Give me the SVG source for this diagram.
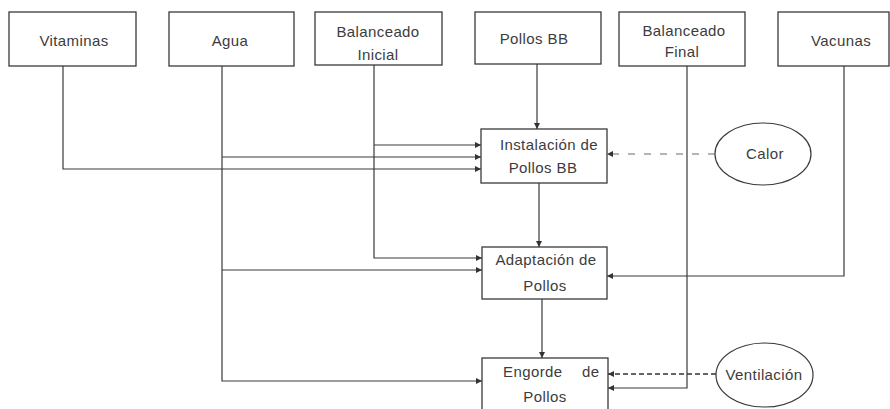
<svg xmlns="http://www.w3.org/2000/svg" width="890" height="409" viewBox="0 0 890 409">
<defs>
<style>
.box{fill:#ffffff;stroke:#3a3a3a;stroke-width:1.3}
.ell{fill:#ffffff;stroke:#3a3a3a;stroke-width:1.2}
.t{font-family:"Liberation Sans",Arial,sans-serif;font-size:15px;fill:#3c3c3c;text-anchor:middle;letter-spacing:0.4px}
.s{text-anchor:start}
.c{fill:none;stroke:#3a3a3a;stroke-width:1.2}
.d1{fill:none;stroke:#6a6a6a;stroke-width:1.1;stroke-dasharray:7 9}
.d2{fill:none;stroke:#333;stroke-width:1.3;stroke-dasharray:5 3}
</style>
<marker id="ar" viewBox="0 0 10 10" refX="10" refY="5" markerWidth="6" markerHeight="6" orient="auto" markerUnits="userSpaceOnUse">
<path d="M0,0 L10,5 L0,10 z" fill="#333"/>
</marker>
</defs>
<rect width="890" height="409" fill="#ffffff"/>
<g id="connectors">
<path class="c" d="M63,66 V169 H481" marker-end="url(#ar)"/>
<path class="c" d="M222,66 V381 H482" marker-end="url(#ar)"/>
<path class="c" d="M222,157 H481" marker-end="url(#ar)"/>
<path class="c" d="M222,270 H482" marker-end="url(#ar)"/>
<path class="c" d="M374,65 V258 H482" marker-end="url(#ar)"/>
<path class="c" d="M374,145 H481" marker-end="url(#ar)"/>
<path class="c" d="M537,64 V129" marker-end="url(#ar)"/>
<path class="c" d="M539,183 V247" marker-end="url(#ar)"/>
<path class="c" d="M542,299 V358" marker-end="url(#ar)"/>
<path class="c" d="M687,66 V388 H608" marker-end="url(#ar)"/>
<path class="c" d="M844,66 V276 H607" marker-end="url(#ar)"/>
<path class="d1" d="M715,154 H607" marker-end="url(#ar)"/>
<path class="d2" d="M716,374 H608" marker-end="url(#ar)"/>
</g>
<g id="vitaminas"><rect class="box" x="9" y="12" width="127" height="54"/><text class="t" x="74" y="46">Vitaminas</text></g>
<g id="agua"><rect class="box" x="169" y="12" width="125" height="54"/><text class="t" x="230" y="46">Agua</text></g>
<g id="balanceado-inicial"><rect class="box" x="315" y="12" width="127" height="53"/><text class="t" x="378" y="37">Balanceado</text><text class="t" x="378" y="60">Inicial</text></g>
<g id="pollos-bb"><rect class="box" x="475" y="12" width="126" height="52"/><text class="t" x="534" y="44">Pollos BB</text></g>
<g id="balanceado-final"><rect class="box" x="619" y="12" width="126" height="54"/><text class="t" x="684" y="36">Balanceado</text><text class="t" x="682" y="57">Final</text></g>
<g id="vacunas"><rect class="box" x="778" y="12" width="111" height="54"/><text class="t" x="841" y="46">Vacunas</text></g>
<g id="instalacion"><rect class="box" x="481" y="129" width="126" height="54"/><text class="t" x="549" y="150">Instalación de</text><text class="t" x="543" y="173">Pollos BB</text></g>
<g id="adaptacion"><rect class="box" x="482" y="247" width="125" height="52"/><text class="t" x="546" y="265">Adaptación de</text><text class="t" x="545" y="291">Pollos</text></g>
<g id="engorde"><rect class="box" x="482" y="358" width="126" height="60"/><text class="t s" y="377"><tspan x="503">Engorde</tspan><tspan x="582">de</tspan></text><text class="t" x="545" y="402">Pollos</text></g>
<g id="calor"><ellipse class="ell" cx="763" cy="154" rx="48" ry="31"/><text class="t" x="765" y="159">Calor</text></g>
<g id="ventilacion"><ellipse class="ell" cx="764.5" cy="375" rx="48.5" ry="32"/><text class="t" x="764" y="380">Ventilación</text></g>
</svg>
